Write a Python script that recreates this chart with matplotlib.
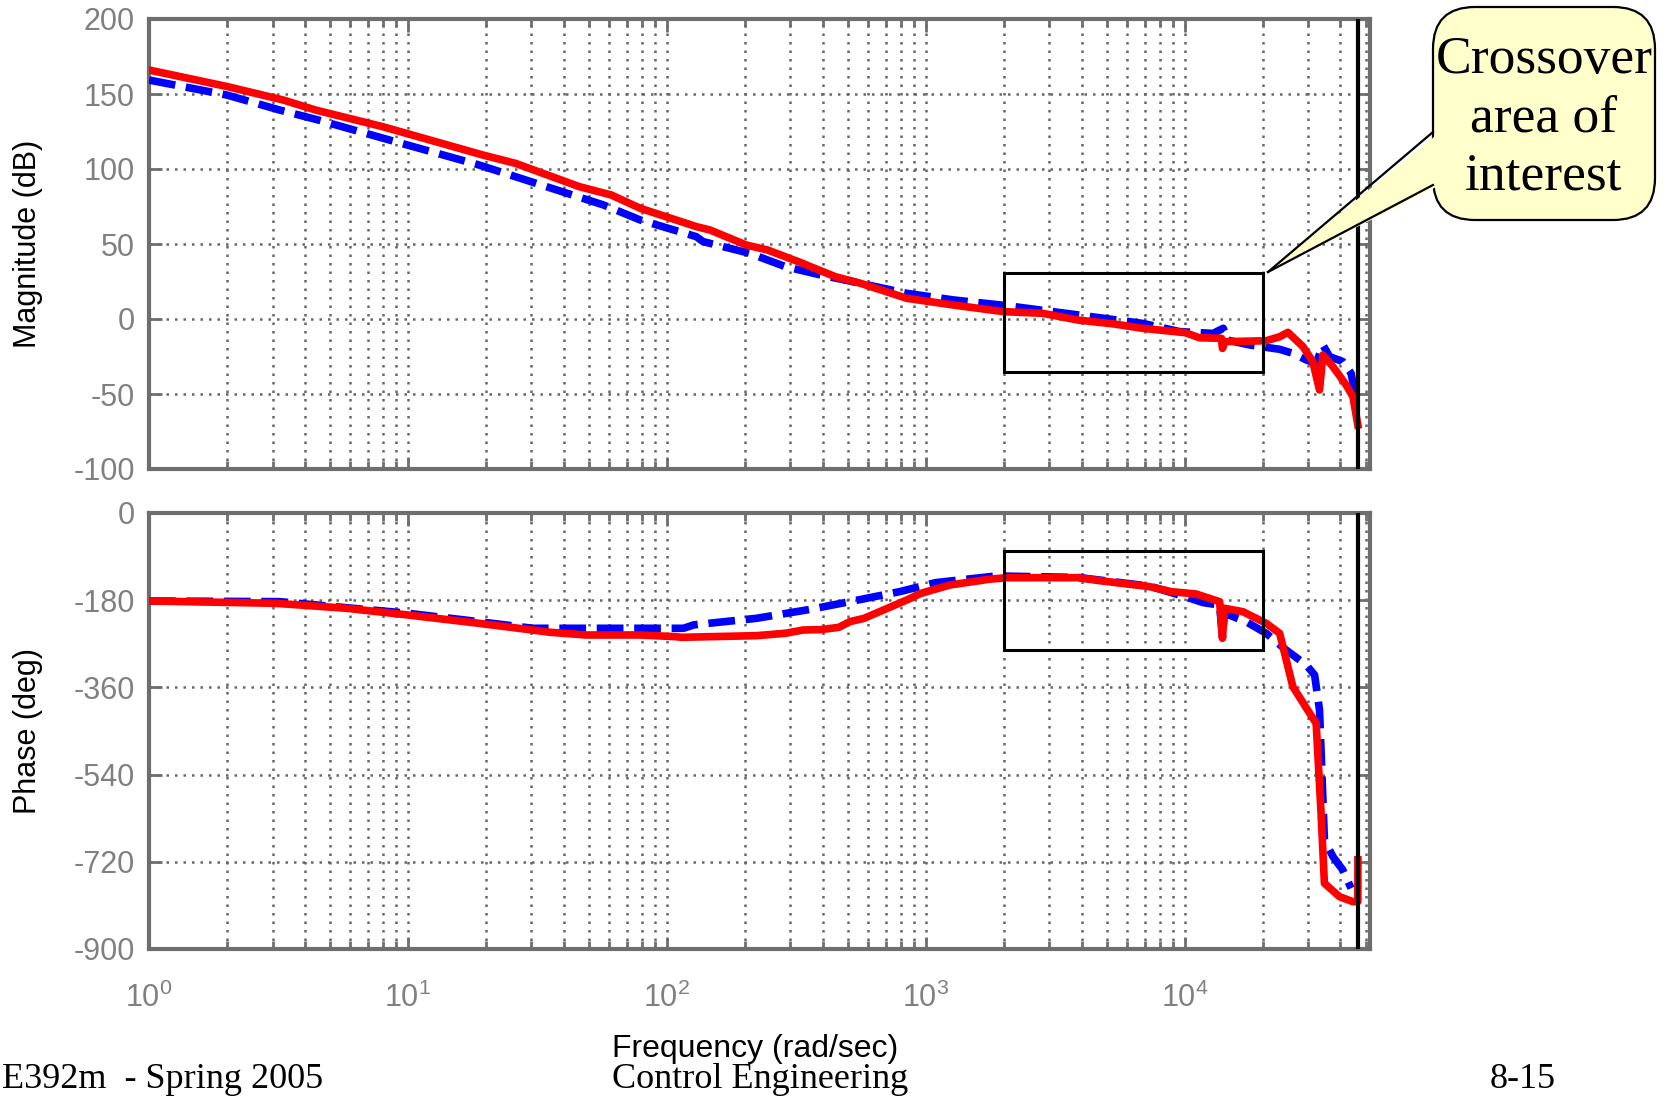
import numpy as np
import matplotlib
matplotlib.use("Agg")
import matplotlib.pyplot as plt
import matplotlib.ticker as mticker
from matplotlib.patches import Rectangle, FancyBboxPatch, Polygon

plt.rcParams['font.family'] = ['Liberation Sans', 'DejaVu Sans']
plt.rcParams['mathtext.fontset'] = 'custom'
plt.rcParams['mathtext.rm'] = 'Liberation Sans'
plt.rcParams['mathtext.it'] = 'Liberation Sans'
plt.rcParams['axes.unicode_minus'] = False

# magnitude, red (solid) curve
mag_red_w = [1.0, 2.0, 3.3, 4.4, 8.0, 19.5, 26, 46, 61, 79, 130, 147, 203, 245, 327, 359,
             448, 560, 845, 1280, 2000, 2825, 3880, 5330, 6870, 10050, 11400, 13870,
             14000, 14300, 20650, 23300, 25060, 28640, 31260, 33190, 34200, 37410,
             42070, 44670, 46670]
mag_red = [166, 155, 146, 139.3, 128.2, 109.3, 103.8, 88.2, 82.7, 73.8, 61.6, 59.3, 49.3, 46,
           37.8, 34.9, 28.2, 23.8, 13.8, 9.3, 4.9, 3.8, -0.7, -3.3, -6.2, -9.1, -12.5, -12.9,
           -19.6, -15.1, -14.5, -11.8, -8.9, -18.4, -28.4, -47.3, -24, -31.8,
           -44, -51.8, -70.7]

# magnitude, blue (dashed) curve
mag_blue_w = [1.0, 2.0, 3.2, 4.5, 8.5, 18.8, 26, 57, 79, 130, 138, 209, 287, 394, 509, 845,
              1280, 2055, 3880, 6870, 9570, 12880, 14100, 14600, 17820, 23280, 26180,
              29510, 32210, 34200, 36310, 40830, 43950, 46030]
mag_blue = [159.3, 149.3, 139.3, 132.7, 119.3, 102.7, 94.9, 76, 66, 54.9, 51.6, 43.8, 34.9,
            29.3, 25.3, 17.1, 12.7, 8.9, 2.7, -2.9, -8.4, -9.6, -6.2, -14, -17.3, -20.2,
            -22.9, -27.3, -29.6, -17.3, -25.1, -28.4, -36.2, -54]

# phase, red
ph_red_w = [1.0, 3.08, 5.8, 10, 18.8, 35.6, 48.6, 78.7, 108, 114, 222, 287, 336, 394, 462,
            509, 578, 845, 959, 1240, 1750, 2055, 3880, 4700, 7330, 8870, 11070, 13650,
            14000, 14250, 16790, 20650, 23280, 26180, 30410, 32210, 33650, 34670, 39630,
            44670, 46670, 46700]
ph_red = [-181.6, -186.4, -196.7, -210.5, -227.7, -246.3, -251.8, -251.8, -255.3, -256.6,
          -253.2, -248.3, -241.5, -240.7, -236, -224.3, -217.4, -179.6, -165.8, -148.6,
          -136.9, -133.5, -133.5, -139.7, -152, -162.3, -167.2, -183, -258.6, -196.7,
          -203.7, -227.7, -248.3, -358.5, -413.4, -434, -619.8, -764.3, -792, -802.3,
          -802, -716]

# phase, blue
ph_blue_w = [1.0, 3.2, 10, 18.8, 30.3, 41.7, 116, 127, 222, 359, 509, 794, 1090, 1870, 3880,
             7330, 10050, 11800, 13650, 14000, 14250, 17260, 20650, 24660, 29510, 31770,
             33190, 34670, 37410, 40830, 43950]
ph_blue = [-181.6, -183, -207, -224.3, -238, -238, -238, -231, -217.4, -198.8, -183, -162.3,
           -143.8, -130, -133, -151, -172.8, -185, -190, -255, -207, -224.3, -248.3,
           -282.8, -313.7, -334.4, -406.6, -675, -709.4, -736.9, -774.6]

nyquist = 46700
box_w = [2000, 20000]
box_mag = [-35, 31]
box_ph = [-283, -78]

W, H = 1670, 1098
fig = plt.figure(figsize=(W / 100, H / 100), dpi=100)
ax1 = fig.add_axes([149 / W, 1 - 469 / H, 1221 / W, 450 / H])
ax2 = fig.add_axes([149 / W, 1 - 949 / H, 1221 / W, 436 / H])

spine_c = '#6e6e6e'
grid_c = '#666666'
dots = (0, (1, 2.4))
for ax in (ax1, ax2):
    ax.set_xscale('log')
    ax.set_xlim(1, 5.2e4)
    for s in ax.spines.values():
        s.set_color(spine_c)
        s.set_linewidth(3)
    ax.tick_params(which='both', direction='in', top=True, right=True, color=spine_c,
                   labelcolor='#808080', labelsize=22)
    ax.tick_params(which='major', length=9, width=2, pad=10)
    ax.tick_params(which='minor', length=6, width=2)
    ax.xaxis.set_minor_locator(mticker.LogLocator(base=10, subs=np.arange(2, 10)))
    ax.yaxis.set_minor_locator(mticker.NullLocator())
    ax.grid(True, which='both', axis='x', color=grid_c, linestyle=dots, linewidth=1.8)
    ax.grid(True, which='major', axis='y', color=grid_c, linestyle=dots, linewidth=1.8)
    ax.axvline(nyquist, color='black', lw=3, zorder=5)

ax1.plot(mag_blue_w, mag_blue, color='blue', lw=5.5, dashes=(3.5, 1.4), zorder=3)
ax1.plot(mag_red_w, mag_red, color='red', lw=5.5, zorder=4)
ax1.set_ylim(-100, 200)
ax1.set_yticks(np.arange(-100, 201, 50))
ax1.xaxis.set_major_formatter(mticker.NullFormatter())
ax1.xaxis.set_minor_formatter(mticker.NullFormatter())
ax1.set_ylabel('Magnitude (dB)', fontsize=22)
ax1.yaxis.set_label_coords(-0.087, 0.5)
ax1.add_patch(Rectangle((box_w[0], box_mag[0]), box_w[1] - box_w[0], box_mag[1] - box_mag[0],
                        fill=False, edgecolor='black', lw=2.2, zorder=6))

ax2.plot(ph_blue_w, ph_blue, color='blue', lw=5.5, dashes=(3.5, 1.4), zorder=3)
ax2.plot(ph_red_w, ph_red, color='red', lw=5.5, zorder=4)
ax2.set_ylim(-900, 0)
ax2.set_yticks(np.arange(-900, 1, 180))
ax2.xaxis.set_major_formatter(mticker.LogFormatterMathtext())
ax2.xaxis.set_minor_formatter(mticker.NullFormatter())
ax2.tick_params(axis='x', which='major', pad=24)
ax2.set_ylabel('Phase (deg)', fontsize=22)
ax2.yaxis.set_label_coords(-0.087, 0.5)
ax2.add_patch(Rectangle((box_w[0], box_ph[0]), box_w[1] - box_w[0], box_ph[1] - box_ph[0],
                        fill=False, edgecolor='black', lw=2.2, zorder=6))

fig.text(755 / W, 1 - 1049 / H, 'Frequency (rad/sec)', fontsize=23, ha='center', va='center')

serif = ['Liberation Serif', 'DejaVu Serif']
fig.text(2 / W, 1 - 1079 / H, 'E392m  - Spring 2005', family=serif, fontsize=26,
         ha='left', va='center')
fig.text(760 / W, 1 - 1079 / H, 'Control Engineering', family=serif, fontsize=26,
         ha='center', va='center')
fig.text(1523 / W, 1 - 1079 / H, '8-15', family=serif, fontsize=26, ha='center', va='center')

# callout (coordinates in inches so the rounding stays round)
tr = fig.dpi_scale_trans
def px(x, y):
    return (x / 100, (H - y) / 100)

yellow = '#ffffcc'
bx0, by0 = px(1433, 220)
bx1, by1 = px(1655, 7)
box = FancyBboxPatch((bx0 + 0.42, by0 + 0.42), (bx1 - bx0) - 0.84, (by1 - by0) - 0.84,
                     boxstyle='round,pad=0.42', transform=tr, facecolor=yellow,
                     edgecolor='black', lw=1.6, zorder=10)
fig.patches.append(box)
tip = px(1268, 272)
wedge = Polygon([px(1440, 132), tip, px(1440, 185)], closed=True, transform=tr,
                facecolor=yellow, edgecolor='none', zorder=11)
fig.patches.append(wedge)
for yy in (132, 185):
    p0 = px(1433, yy)
    fig.lines.append(plt.Line2D([p0[0], tip[0]], [p0[1], tip[1]], transform=tr,
                                color='black', lw=1.6, zorder=12))
fig.text(1544 / W, 1 - 118 / H, 'Crossover\narea of\ninterest', family=serif, fontsize=38.5,
         ha='center', va='center', linespacing=1.28, zorder=13)

fig.savefig('out.png', dpi=100)
